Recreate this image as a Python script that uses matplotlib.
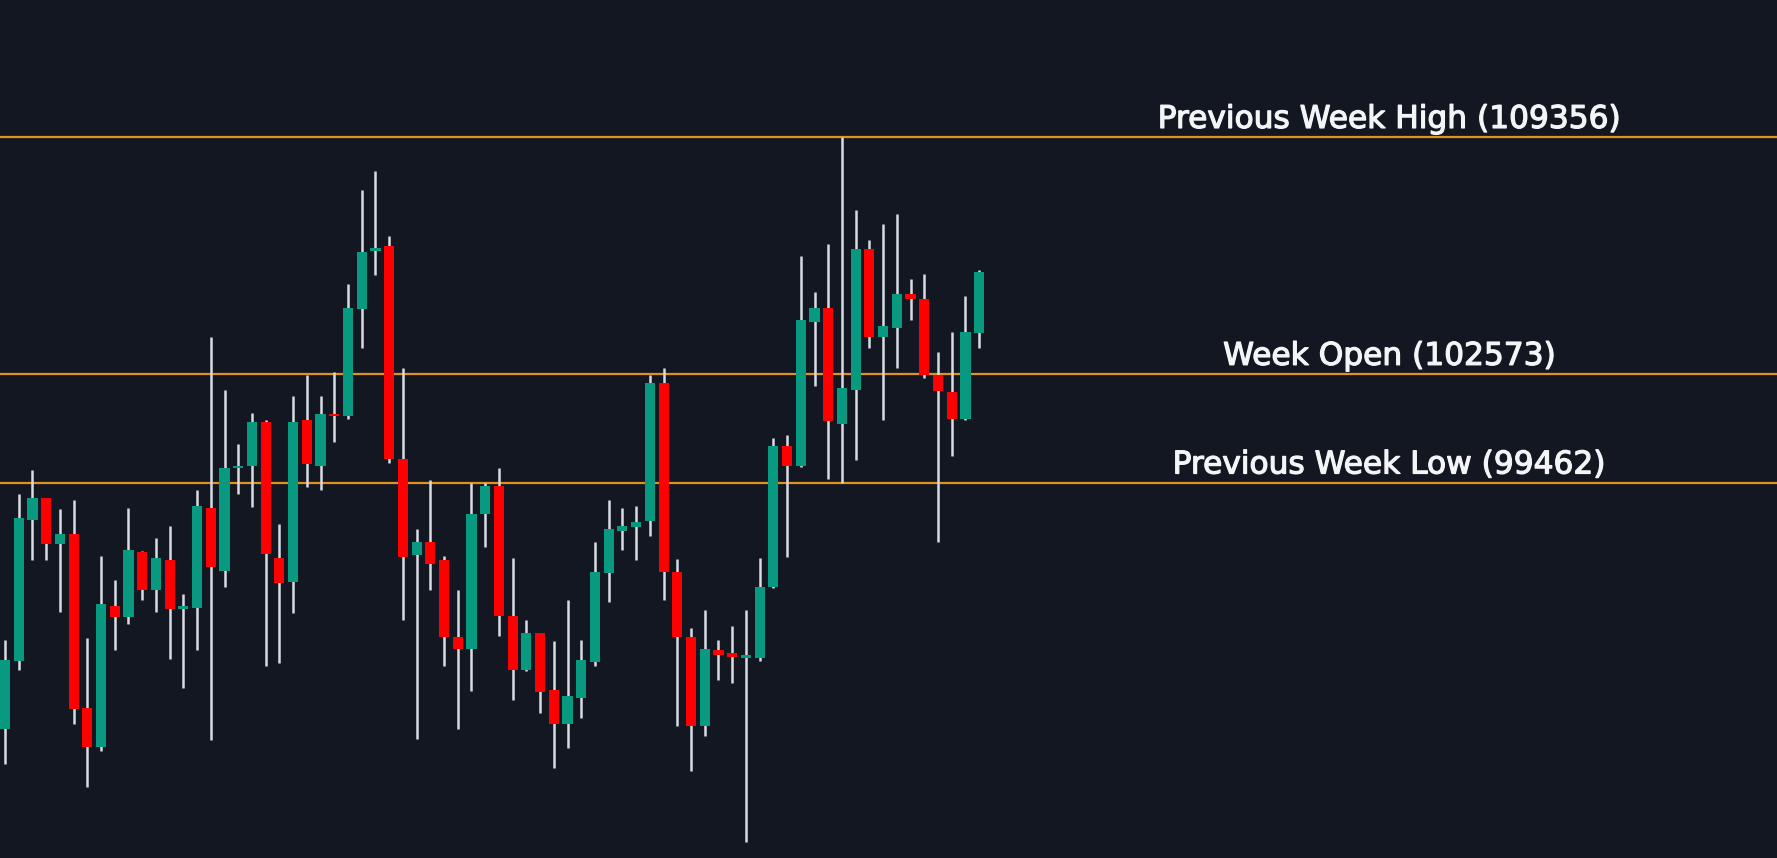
import numpy as np
import matplotlib
matplotlib.use('Agg')
import matplotlib.pyplot as plt
import matplotlib.patheffects as pe

# hourly candles, values
opens = [92391, 94347, 98399, 99012, 97708, 97990, 93004, 91879, 95919, 95599,
         97478, 96392, 97248, 95842, 95880, 98731, 96929, 99882, 99945, 101185,
         97287, 96622, 101249, 99945, 101415, 101377, 104420, 106094, 106235, 100124,
         97376, 97760, 97248, 95050, 94692, 98565, 99370, 95650, 94091, 95139,
         93516, 92557, 93286, 94334, 96865, 98079, 98181, 98348, 102310, 96903,
         95024, 92493, 94666, 94566, 94451, 94438, 96484, 100510, 99935, 104064,
         104448, 101150, 102108, 106161, 103617, 103898, 104857, 104729, 102530, 102044,
         101277, 103732]
highs = [94947, 99140, 99818, 99030, 98693, 98948, 95011, 97351, 96673, 98731,
         97500, 97887, 98207, 96264, 99242, 103640, 102106, 100572, 101441, 101249,
         98271, 101952, 102528, 101952, 102630, 105148, 107833, 108369, 106516, 102745,
         98117, 99524, 97351, 96392, 99460, 99460, 99882, 97312, 95535, 95160,
         94922, 96098, 94960, 97760, 98974, 98731, 98795, 102528, 102745, 97261,
         95305, 95817, 94960, 95359, 95806, 97289, 100740, 100830, 105943, 104920,
         106288, 109356, 107260, 106416, 106864, 107158, 105279, 105432, 103195, 103770,
         104793, 105560]
lows = [91406, 94091, 97248, 97248, 95753, 92557, 90729, 91764, 94666, 95408,
        96098, 95753, 94410, 93580, 94666, 92084, 96456, 99140, 98757, 94219,
        94283, 95714, 99332, 99242, 100636, 101275, 103320, 105404, 100009, 95535,
        92109, 96392, 94219, 92391, 93490, 97606, 95075, 93234, 94052, 92851,
        91278, 91854, 92723, 94219, 96047, 97542, 97248, 97926, 96098, 92493,
        91189, 92212, 93810, 93710, 89172, 94349, 96445, 97315, 99900, 102236,
        99552, 99462, 100101, 103323, 101252, 102747, 104115, 102466, 97762, 100229,
        101250, 103323]
closes = [94385, 98437, 99012, 97708, 97990, 92979, 91879, 95970, 95599, 97529,
          96392, 97287, 95842, 95919, 98795, 97031, 99882, 99933, 101185, 97414,
          96583, 101185, 99997, 101415, 101364, 104445, 106069, 106171, 100137, 97325,
          97760, 97133, 95024, 94692, 98565, 99370, 95650, 94091, 95139, 93477,
          92557, 93362, 94385, 96903, 98117, 98207, 98335, 102310, 96903, 95024,
          92493, 94692, 94513, 94477, 94502, 96484, 100510, 99935, 104115, 104448,
          101213, 102172, 106161, 103617, 103936, 104857, 104703, 102530, 102070, 101277,
          103770, 105496]

level_names = ['Previous Week High', 'Week Open', 'Previous Week Low']
level_values = [109356, 102573, 99462]

bg = '#131722'
up_color = '#089981'
down_color = '#ff0000'
wick_color = '#d8dbe2'
level_color = '#e0921f'
text_color = '#f4f5f7'

o = np.array(opens)
h = np.array(highs)
l = np.array(lows)
c = np.array(closes)
x = np.arange(len(o))
colors = np.where(c >= o, up_color, down_color)

fig = plt.figure(figsize=(17.77, 8.58), dpi=100, facecolor=bg)
ax = fig.add_axes([0, 0, 1, 1])
ax.set_facecolor(bg)

ax.vlines(x, l, h, color=wick_color, linewidth=1.8, zorder=2)
body_bottom = np.minimum(o, c)
body_height = np.maximum(np.abs(c - o), 60)
ax.bar(x, body_height, bottom=body_bottom, width=0.74, color=colors,
       linewidth=0, zorder=3)

for name, val in zip(level_names, level_values):
    ax.axhline(val, color=level_color, linewidth=1.6, zorder=1)
    ax.annotate(f'{name} ({val})', xy=(100.9, val), xytext=(0, 6.5),
                textcoords='offset points', ha='center', va='baseline',
                color=text_color, fontsize=22.5, family='DejaVu Sans',
                path_effects=[pe.withStroke(linewidth=0.9, foreground=text_color)])

ax.set_xlim(-0.364, 129.15)
ax.set_ylim(88710, 113278)
ax.axis('off')

fig.savefig('out.png', dpi=100, facecolor=bg)
